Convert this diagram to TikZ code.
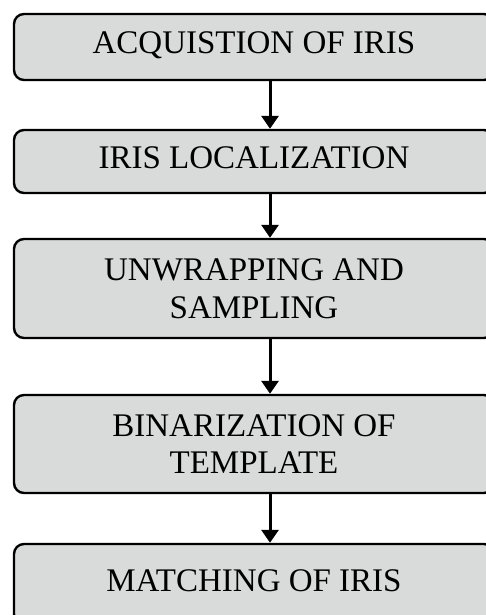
\documentclass[tikz,border=0pt]{standalone}
\usepackage{fontspec}
\setmainfont{Liberation Serif}
\usetikzlibrary{arrows.meta}
\definecolor{boxgray}{RGB}{217,219,219}
\begin{document}
\begin{tikzpicture}[x=1pt,y=-1pt,
  stagebase/.style={draw=black, line width=2.4pt, fill=boxgray,
    rounded corners=10pt, minimum width=480pt, inner sep=0pt,
    font=\fontsize{33}{37.5}\selectfont},
  oneline/.style={stagebase, text height=22pt, text depth=8pt},
  twoline/.style={stagebase, align=center},
  flow/.style={line width=3pt, -{Triangle[width=17pt,length=13pt]}}]
\useasboundingbox (0,0) rectangle (486,615);
\clip (0,0) rectangle (486,615);

% process stages
\node[oneline, minimum height=66pt] (b1) at (254,47) {ACQUISTION OF IRIS};
\node[oneline, minimum height=63pt] (b2) at (254,161.5) {IRIS LOCALIZATION};
\node[twoline, minimum height=99pt] (b3) at (254,288.5) {UNWRAPPING AND\\SAMPLING};
\node[twoline, minimum height=98pt] (b4) at (254,444) {BINARIZATION OF\\TEMPLATE};
\node[oneline, minimum height=80pt] (b5) at (254,584) {MATCHING OF IRIS};

% vertical flow line
\coordinate (axis) at (270,0);
\draw[flow] (b1.south -| axis) -- (b2.north -| axis);
\draw[flow] (b2.south -| axis) -- (b3.north -| axis);
\draw[flow] (b3.south -| axis) -- (b4.north -| axis);
\draw[flow] (b4.south -| axis) -- (b5.north -| axis);
\end{tikzpicture}
\end{document}
